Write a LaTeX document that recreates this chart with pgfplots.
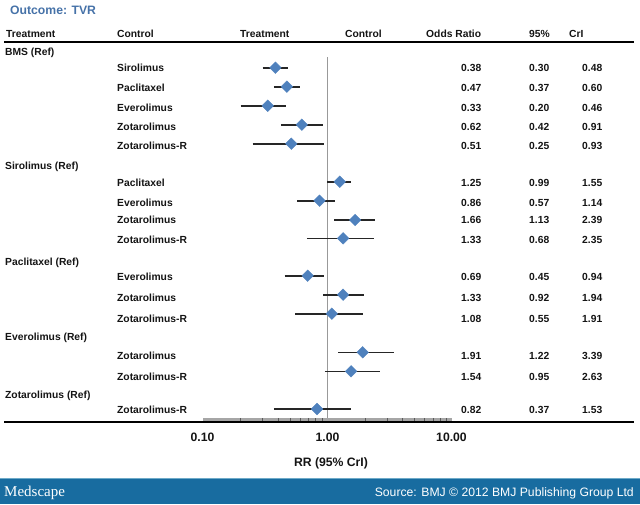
\documentclass[border=0pt]{standalone}
\usepackage{pgfplots}
\pgfplotsset{compat=1.18}
\usepackage{pgfplotstable}
\usepackage{fontspec}
\setmainfont{Liberation Sans}
\newfontfamily\seriffont{Liberation Serif}
\definecolor{diam}{RGB}{79,129,189}
\definecolor{titleblue}{RGB}{70,114,168}
\definecolor{band}{RGB}{24,108,160}
\definecolor{bandline}{RGB}{110,170,200}
\definecolor{txt}{RGB}{20,20,20}

% y = row position (pixels from top), or = odds ratio, lo/hi = 95% CrI
\pgfplotstableread{
y     or    lo    hi
67.7  0.38  0.30  0.48
86.7  0.47  0.37  0.60
105.7 0.33  0.20  0.46
124.7 0.62  0.42  0.91
143.7 0.51  0.25  0.93
181.7 1.25  0.99  1.55
200.7 0.86  0.57  1.14
220.0 1.66  1.13  2.39
238.3 1.33  0.68  2.35
275.7 0.69  0.45  0.94
294.7 1.33  0.92  1.94
313.7 1.08  0.55  1.91
352.3 1.91  1.22  3.39
371.3 1.54  0.95  2.63
409.0 0.82  0.37  1.53
}\data

\newcommand{\lab}[3]{\node[anchor=base west,inner sep=0pt,text=txt,font=\fontsize{10.3}{12}\selectfont\bfseries] at (#1,#2+3.7) {#3};}
\newcommand{\row}[6]{\lab{117}{#1}{#2}\lab{461}{#1}{#3}\lab{529}{#1}{#4}\lab{582}{#1}{#5}}

\begin{document}
\begin{tikzpicture}
\begin{axis}[
  at={(0,0)}, anchor=south west,
  width=640pt, height=504pt, scale only axis,
  xmode=log, xmin=0.002333, xmax=322.4,
  ymin=0, ymax=504, y dir=reverse,
  hide axis, clip=false,
]
\path (rel axis cs:0,0) rectangle (rel axis cs:1,1);
% reference line at 1
\addplot[black!40, line width=0.9pt] coordinates {(1,57) (1,421)};
% gray axis bar with minor ticks
\addplot[black!35, line width=3.2pt] coordinates {(0.1,419.6) (10,419.6)};
\addplot[only marks, mark=|, mark size=1.6pt, mark options={black!65, line width=0.6pt}] coordinates {
(0.2,419.6) (0.3,419.6) (0.4,419.6) (0.5,419.6) (0.6,419.6) (0.7,419.6) (0.8,419.6) (0.9,419.6)
(2,419.6) (3,419.6) (4,419.6) (5,419.6) (6,419.6) (7,419.6) (8,419.6) (9,419.6)};
% credible intervals
\pgfplotsset{ci/.style={black!85, line width=1.6pt}}
\addplot[ci] coordinates {(0.30,67.7) (0.48,67.7)};
\addplot[ci] coordinates {(0.37,86.7) (0.60,86.7)};
\addplot[ci] coordinates {(0.20,105.7) (0.46,105.7)};
\addplot[ci] coordinates {(0.42,124.7) (0.91,124.7)};
\addplot[ci] coordinates {(0.25,143.7) (0.93,143.7)};
\addplot[ci] coordinates {(0.99,181.7) (1.55,181.7)};
\addplot[ci] coordinates {(0.57,200.7) (1.14,200.7)};
\addplot[ci] coordinates {(1.13,220.0) (2.39,220.0)};
\addplot[ci] coordinates {(0.68,238.3) (2.35,238.3)};
\addplot[ci] coordinates {(0.45,275.7) (0.94,275.7)};
\addplot[ci] coordinates {(0.92,294.7) (1.94,294.7)};
\addplot[ci] coordinates {(0.55,313.7) (1.91,313.7)};
\addplot[ci] coordinates {(1.22,352.3) (3.39,352.3)};
\addplot[ci] coordinates {(0.95,371.3) (2.63,371.3)};
\addplot[ci] coordinates {(0.37,409.0) (1.53,409.0)};
% point estimates
\addplot[only marks, mark=square*, mark size=4.1pt, mark options={rotate=45, fill=diam, draw=diam}] table[x=or, y=y] {\data};
\end{axis}

\begin{scope}[x=1pt, y=-1pt, shift={(0,504pt)}]
% title
\node[anchor=base west, inner sep=0pt, text=titleblue, font=\fontsize{12.2}{14}\selectfont\bfseries] at (10,14.3) {Outcome: TVR};
% header
\lab{6}{33.5}{Treatment}
\lab{117}{33.5}{Control}
\lab{240}{33.5}{Treatment}
\lab{345}{33.5}{Control}
\lab{426}{33.5}{Odds Ratio}
\lab{529}{33.5}{95\%}
\lab{569}{33.5}{CrI}
\draw[black, line width=2pt] (4,41.7) -- (634,41.7);
% groups
\lab{5}{52}{BMS (Ref)}
\lab{5}{166}{Sirolimus (Ref)}
\lab{5}{262}{Paclitaxel (Ref)}
\lab{5}{337}{Everolimus (Ref)}
\lab{5}{395}{Zotarolimus (Ref)}
% rows
\row{68}{Sirolimus}{0.38}{0.30}{0.48}{}
\row{88}{Paclitaxel}{0.47}{0.37}{0.60}{}
\row{108}{Everolimus}{0.33}{0.20}{0.46}{}
\row{127}{Zotarolimus}{0.62}{0.42}{0.91}{}
\row{146}{Zotarolimus-R}{0.51}{0.25}{0.93}{}
\row{183}{Paclitaxel}{1.25}{0.99}{1.55}{}
\row{203}{Everolimus}{0.86}{0.57}{1.14}{}
\row{220}{Zotarolimus}{1.66}{1.13}{2.39}{}
\row{240}{Zotarolimus-R}{1.33}{0.68}{2.35}{}
\row{277}{Everolimus}{0.69}{0.45}{0.94}{}
\row{298}{Zotarolimus}{1.33}{0.92}{1.94}{}
\row{319}{Zotarolimus-R}{1.08}{0.55}{1.91}{}
\row{356}{Zotarolimus}{1.91}{1.22}{3.39}{}
\row{377}{Zotarolimus-R}{1.54}{0.95}{2.63}{}
\row{410}{Zotarolimus-R}{0.82}{0.37}{1.53}{}
% bottom rule
\draw[black, line width=2pt] (4,421.7) -- (634,421.7);
% x tick labels and axis label
\node[anchor=base, inner sep=0pt, text=txt, font=\fontsize{12.2}{14}\selectfont\bfseries] at (202.5,441.6) {0.10};
\node[anchor=base, inner sep=0pt, text=txt, font=\fontsize{12.2}{14}\selectfont\bfseries] at (327.5,441.6) {1.00};
\node[anchor=base, inner sep=0pt, text=txt, font=\fontsize{12.2}{14}\selectfont\bfseries] at (451.5,441.6) {10.00};
\node[anchor=base, inner sep=0pt, text=txt, font=\fontsize{12.2}{14}\selectfont\bfseries] at (331,466) {RR (95\% CrI)};
% footer band
\fill[band] (0,478.5) rectangle (640,504);
\fill[bandline] (0,477.8) rectangle (640,479);
\node[anchor=base west, inner sep=0pt, text=white, font=\seriffont\fontsize{15}{17}\selectfont] at (4,496.5) {Medscape};
\node[anchor=base east, inner sep=0pt, text=white, font=\fontsize{12.2}{14}\selectfont] at (634,496) {Source: BMJ \textcopyright{} 2012 BMJ Publishing Group Ltd};
\end{scope}
\end{tikzpicture}
\end{document}
